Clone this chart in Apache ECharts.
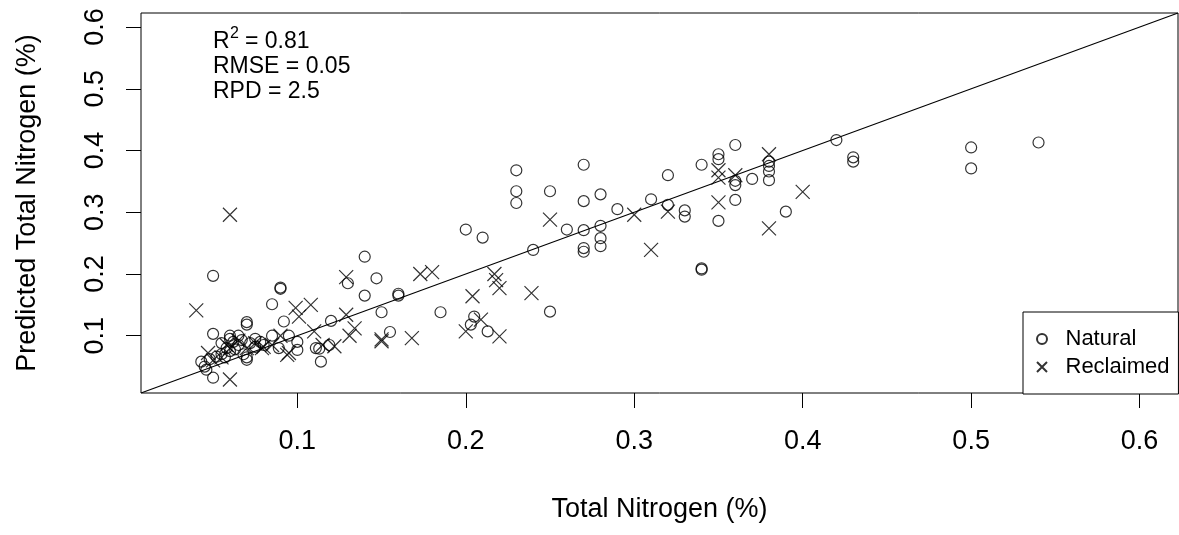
<!DOCTYPE html>
<html>
<head>
<meta charset="utf-8">
<title>Predicted vs measured total nitrogen</title>
<script src="https://cdn.jsdelivr.net/npm/echarts@6/dist/echarts.min.js"></script>
<style>
  html, body { margin: 0; padding: 0; background: #fff; }
  #chart { width: 1179px; height: 535px; }
</style>
</head>
<body>
<div id="chart"></div>
<script>
// Measured total nitrogen (%) and model prediction (%) for natural soils
const naturalTN = [
  0.05, 0.09, 0.09, 0.085, 0.14, 0.147, 0.13, 0.14, 0.16, 0.16,
  0.15, 0.155, 0.185, 0.2, 0.21, 0.205, 0.203, 0.213, 0.24, 0.25,
  0.25, 0.23, 0.23, 0.23, 0.26, 0.27, 0.27, 0.27, 0.27, 0.27,
  0.28, 0.28, 0.28, 0.28, 0.29, 0.31, 0.32, 0.32, 0.33, 0.33,
  0.34, 0.34, 0.34, 0.35, 0.35, 0.35, 0.36, 0.36, 0.36, 0.36,
  0.37, 0.38, 0.38, 0.38, 0.38, 0.39, 0.42, 0.43, 0.43, 0.5,
  0.5, 0.54,
  0.05, 0.043, 0.046, 0.05, 0.045, 0.048, 0.052, 0.055, 0.07, 0.07,
  0.07, 0.07, 0.068, 0.06, 0.062, 0.065, 0.058, 0.06, 0.065, 0.067,
  0.072, 0.075, 0.078, 0.08, 0.063, 0.057, 0.092, 0.089, 0.1, 0.1,
  0.095, 0.085, 0.12, 0.111, 0.113, 0.114, 0.119, 0.06, 0.055, 0.075
];
const naturalPred = [
  0.197, 0.178, 0.176, 0.151, 0.228, 0.193, 0.185, 0.165, 0.168, 0.165,
  0.138, 0.106, 0.138, 0.272, 0.259, 0.131, 0.118, 0.107, 0.239, 0.139,
  0.334, 0.368, 0.334, 0.315, 0.272, 0.377, 0.318, 0.271, 0.242, 0.236,
  0.329, 0.278, 0.258, 0.245, 0.305, 0.321, 0.36, 0.312, 0.303, 0.293,
  0.377, 0.209, 0.207, 0.394, 0.386, 0.286, 0.409, 0.351, 0.344, 0.32,
  0.354, 0.382, 0.375, 0.366, 0.352, 0.301, 0.417, 0.389, 0.382, 0.405,
  0.371, 0.413,
  0.103, 0.058, 0.045, 0.032, 0.05, 0.062, 0.066, 0.07, 0.122, 0.118,
  0.061, 0.065, 0.07, 0.095, 0.09, 0.085, 0.08, 0.075, 0.1, 0.093,
  0.088, 0.082, 0.09, 0.085, 0.078, 0.065, 0.123, 0.08, 0.077, 0.09,
  0.1, 0.1, 0.124, 0.08, 0.079, 0.058, 0.085, 0.1, 0.088, 0.095
];

// Measured and predicted total nitrogen (%) for reclaimed soils
const reclaimedTN = [
  0.04, 0.06, 0.06, 0.047, 0.05, 0.055, 0.06, 0.065, 0.07, 0.075,
  0.08, 0.085, 0.09, 0.058, 0.099, 0.108, 0.101, 0.095, 0.079, 0.094,
  0.11, 0.129, 0.129, 0.134, 0.131, 0.122, 0.115, 0.15, 0.15, 0.168,
  0.173, 0.18, 0.204, 0.2, 0.209, 0.22, 0.217, 0.22, 0.218, 0.239,
  0.25, 0.3, 0.31, 0.32, 0.35, 0.35, 0.35, 0.36, 0.38, 0.38, 0.4
];
const reclaimedPred = [
  0.141, 0.296, 0.029, 0.072, 0.06, 0.065, 0.08, 0.092, 0.08, 0.088,
  0.082, 0.085, 0.1, 0.085, 0.145, 0.15, 0.131, 0.072, 0.08, 0.069,
  0.107, 0.195, 0.134, 0.112, 0.1, 0.083, 0.085, 0.091, 0.094, 0.096,
  0.2, 0.203, 0.164, 0.107, 0.126, 0.099, 0.2, 0.177, 0.19, 0.169,
  0.288, 0.296, 0.239, 0.301, 0.368, 0.356, 0.316, 0.36, 0.394, 0.274, 0.333
];

// Tick positions shared by both axes
const tickValues = [0.1, 0.2, 0.3, 0.4, 0.5, 0.6];

// Axis limits 0.03..0.6 widened by 4% on each side
const limLow = 0.03, limHigh = 0.6;
const pad = 0.04 * (limHigh - limLow);
const axisMin = limLow - pad, axisMax = limHigh + pad;

// Fit statistics shown in the corner
const statLines = [
  { label: 'R', sup: '2', value: ' = 0.81' },
  { label: 'RMSE', sup: '', value: ' = 0.05' },
  { label: 'RPD', sup: '', value: ' = 2.5' }
];

const zip = (xs, ys) => xs.map((x, i) => [x, ys[i]]);
const FONT = '"Liberation Sans", Arial, sans-serif';
const crossPath = 'path://M0,0L10,10M10,0L0,10';

const chart = echarts.init(document.getElementById('chart'), null, { renderer: 'canvas' });

function axisCommon(name, isY) {
  return {
    type: 'value',
    min: axisMin,
    max: axisMax,
    name: name,
    nameLocation: 'middle',
    nameGap: isY ? 100 : 103,
    nameTextStyle: { fontFamily: FONT, fontSize: 27, color: '#000' },
    axisLine: { show: false },
    axisTick: {
      show: true, inside: false, length: 15,
      customValues: tickValues,
      lineStyle: { color: '#000', width: 1 }
    },
    axisLabel: {
      customValues: tickValues,
      formatter: v => v.toFixed(1),
      fontFamily: FONT, fontSize: 27, color: '#000',
      margin: isY ? 32 : 35,
      rotate: isY ? 90 : 0
    },
    splitLine: { show: false }
  };
}

// Corner statistics: main text plus a raised exponent where needed
const statFont = '23px ' + FONT;
const supFont = '16px ' + FONT;
const statGraphics = [];
statLines.forEach((s, i) => {
  const top = 30 + i * 25;
  const labelWidth = echarts.format.getTextRect
    ? echarts.format.getTextRect(s.label, statFont).width
    : s.label.length * 14;
  statGraphics.push({
    type: 'text', left: 213, top: top,
    style: { text: s.label, font: statFont, fill: '#000' }
  });
  let x = 213 + labelWidth;
  if (s.sup) {
    statGraphics.push({
      type: 'text', left: x + 0.5, top: top - 4,
      style: { text: s.sup, font: supFont, fill: '#000' }
    });
    x += 9;
  }
  statGraphics.push({
    type: 'text', left: x, top: top,
    style: { text: s.value, font: statFont, fill: '#000' }
  });
});

chart.setOption({
  animation: false,
  backgroundColor: '#fff',
  textStyle: { fontFamily: FONT, color: '#000' },
  grid: {
    show: true, left: 141, top: 13, right: 1, bottom: 142,
    borderColor: '#000', borderWidth: 1, backgroundColor: 'transparent'
  },
  xAxis: axisCommon('Total Nitrogen (%)', false),
  yAxis: axisCommon('Predicted Total Nitrogen (%)', true),
  legend: {
    orient: 'vertical',
    left: 1023, top: 312,
    data: ['Natural', 'Reclaimed'],
    backgroundColor: '#fff',
    borderColor: '#000', borderWidth: 1, borderRadius: 0,
    padding: [16, 9, 16, 13],
    itemWidth: 11, itemHeight: 10, itemGap: 6,
    textStyle: { fontFamily: FONT, fontSize: 22, color: '#000', padding: [0, 0, 0, 13] }
  },
  graphic: statGraphics,
  series: [
    {
      name: 'identity',
      type: 'line',
      data: [[axisMin, axisMin], [axisMax, axisMax]],
      symbol: 'none',
      silent: true,
      lineStyle: { color: '#000', width: 1.1 },
      z: 1
    },
    {
      name: 'Natural',
      type: 'scatter',
      data: zip(naturalTN, naturalPred),
      symbol: 'circle',
      symbolSize: 11,
      itemStyle: { color: 'transparent', borderColor: '#000', borderWidth: 1.2 },
      z: 2
    },
    {
      name: 'Reclaimed',
      type: 'scatter',
      data: zip(reclaimedTN, reclaimedPred),
      symbol: crossPath,
      symbolSize: 14,
      itemStyle: { color: 'transparent', borderColor: '#000', borderWidth: 1.2 },
      z: 2
    }
  ]
});
</script>
</body>
</html>
